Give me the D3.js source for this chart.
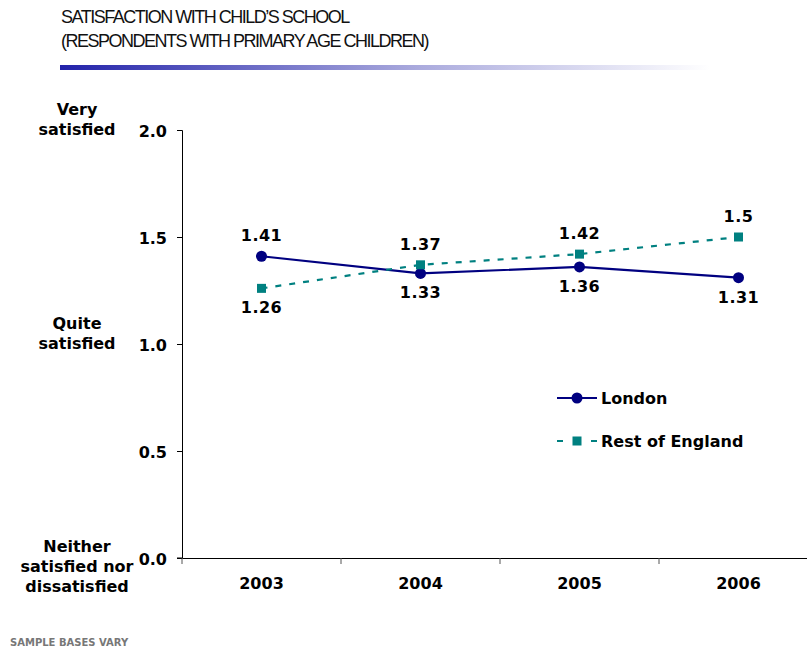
<!DOCTYPE html>
<html>
<head>
<meta charset="utf-8">
<script src="https://cdn.jsdelivr.net/npm/d3@7"></script>
<style>
  body { margin: 0; background: #fff; }
  svg { display: block; }
</style>
</head>
<body>
<svg id="chart" width="807" height="648"></svg>
<script>
var years = ["2003", "2004", "2005", "2006"];
var london = [1.41, 1.33, 1.36, 1.31];
var restOfEngland = [1.26, 1.37, 1.42, 1.5];
var yTicks = [0, 0.5, 1.0, 1.5, 2.0];
var londonLabelPos = ["above", "below", "below", "below"];
var restLabelPos = ["below", "above", "above", "above"];
var sideLabels = [
    {value: 2.0, lines: ["Very", "satisfied"]},
    {value: 1.0, lines: ["Quite", "satisfied"]},
    {value: 0.0, lines: ["Neither", "satisfied nor", "dissatisfied"]}
];

var svg = d3.select("svg#chart");
var font = "Verdana, 'DejaVu Sans', sans-serif";
var titleFont = "'Liberation Sans Narrow', 'Liberation Sans', Arial, sans-serif";

var x = d3.scaleBand().domain(years).range([182, 818]);
var y = d3.scaleLinear().domain([0, 2]).range([558, 130]);

// title
svg.append("text").attr("x", 61).attr("y", 23)
    .style("font-family", titleFont)
    .style("font-size", "18px").style("letter-spacing", "-1.5px").style("fill", "#111")
    .text("SATISFACTION WITH CHILD\u2019S SCHOOL");
svg.append("text").attr("x", 61).attr("y", 47)
    .style("font-family", titleFont)
    .style("font-size", "18px").style("letter-spacing", "-1.5px").style("fill", "#111")
    .text("(RESPONDENTS WITH PRIMARY AGE CHILDREN)");

var grad = svg.append("defs").append("linearGradient").attr("id", "bar");
grad.append("stop").attr("offset", "0%").attr("stop-color", "#2222aa");
grad.append("stop").attr("offset", "55%").attr("stop-color", "#aaaadd");
grad.append("stop").attr("offset", "100%").attr("stop-color", "#ffffff");
svg.append("rect").attr("x", 60).attr("y", 65).attr("width", 650).attr("height", 5)
    .attr("fill", "url(#bar)");

// axes
var yAxis = svg.append("g").attr("transform", "translate(182,0)")
    .call(d3.axisLeft(y).tickValues(yTicks).tickSize(5).tickFormat(d3.format(".1f")));
yAxis.select(".domain").attr("stroke", "#000");
yAxis.selectAll(".tick line").attr("stroke", "#000");
yAxis.selectAll("text").attr("x", -15).attr("dy", "0.4em")
    .style("font-family", font).style("font-size", "16px").style("font-weight", "bold");

var xAxis = svg.append("g").attr("transform", "translate(0,558)")
    .call(d3.axisBottom(x).tickSize(0).tickSizeOuter(0));
xAxis.select(".domain").attr("stroke", "#000");
xAxis.selectAll("text").attr("dy", null).attr("y", 31)
    .style("font-family", font).style("font-size", "16px").style("font-weight", "bold");
// band boundary ticks
svg.append("g").selectAll("line")
    .data(years)
    .join("line")
    .attr("x1", d => x(d)).attr("x2", d => x(d))
    .attr("y1", 558).attr("y2", 564)
    .attr("stroke", "#555");
svg.append("line").attr("x1", 177).attr("x2", 182).attr("y1", 558).attr("y2", 558).attr("stroke", "#000");

// side labels
sideLabels.forEach(function(s) {
    var n = s.lines.length;
    var t = svg.append("text")
        .attr("text-anchor", "middle")
        .style("font-family", font).style("font-size", "16px").style("font-weight", "bold");
    s.lines.forEach(function(l, i) {
        t.append("tspan").attr("x", 77)
            .attr("y", y(s.value) + (n === 3 ? -6 : -15) + i * 20)
            .text(l);
    });
});

var cx = d => x(d) + x.bandwidth() / 2;

function drawSeries(values, color, dashed, marker, labelPos) {
    var pts = years.map((d, i) => ({year: d, v: values[i], pos: labelPos[i]}));
    svg.append("path").datum(pts)
        .attr("fill", "none").attr("stroke", color).attr("stroke-width", 2.2)
        .attr("stroke-dasharray", dashed ? "6,8" : null)
        .attr("d", d3.line().x(d => cx(d.year)).y(d => y(d.v)));
    if (marker === "circle") {
        svg.append("g").selectAll("circle").data(pts).join("circle")
            .attr("cx", d => cx(d.year)).attr("cy", d => y(d.v)).attr("r", 5.5)
            .attr("fill", color);
    } else {
        svg.append("g").selectAll("rect").data(pts).join("rect")
            .attr("x", d => cx(d.year) - 4.5).attr("y", d => y(d.v) - 4.5)
            .attr("width", 9).attr("height", 9).attr("fill", color);
    }
    svg.append("g").selectAll("text").data(pts).join("text")
        .attr("x", d => cx(d.year))
        .attr("y", d => d.pos === "above" ? y(d.v) - 15 : y(d.v) + 25)
        .attr("text-anchor", "middle")
        .style("font-family", font).style("font-size", "16px").style("font-weight", "bold")
        .style("letter-spacing", "0.5px")
        .text(d => d.v);
}

drawSeries(london, "#000080", false, "circle", londonLabelPos);
drawSeries(restOfEngland, "#008080", true, "square", restLabelPos);

// legend
var legend = [
    {name: "London", color: "#000080", dashed: false, marker: "circle", y: 398},
    {name: "Rest of England", color: "#008080", dashed: true, marker: "square", y: 441}
];
legend.forEach(function(l) {
    svg.append("line").attr("x1", 557).attr("x2", 597).attr("y1", l.y).attr("y2", l.y)
        .attr("stroke", l.color).attr("stroke-width", 2.2)
        .attr("stroke-dasharray", l.dashed ? "6,28" : null);
    if (l.marker === "circle") {
        svg.append("circle").attr("cx", 577).attr("cy", l.y).attr("r", 5.5).attr("fill", l.color);
    } else {
        svg.append("rect").attr("x", 572.5).attr("y", l.y - 4.5).attr("width", 9).attr("height", 9).attr("fill", l.color);
    }
    svg.append("text").attr("x", 601).attr("y", l.y + 6)
        .style("font-family", font).style("font-size", "16px").style("font-weight", "bold")
        .text(l.name);
});

svg.append("text").attr("x", 10).attr("y", 646)
    .style("font-family", font).style("font-size", "10px").style("font-weight", "bold")
    .style("fill", "#777").text("SAMPLE BASES VARY");
</script>
</body>
</html>
